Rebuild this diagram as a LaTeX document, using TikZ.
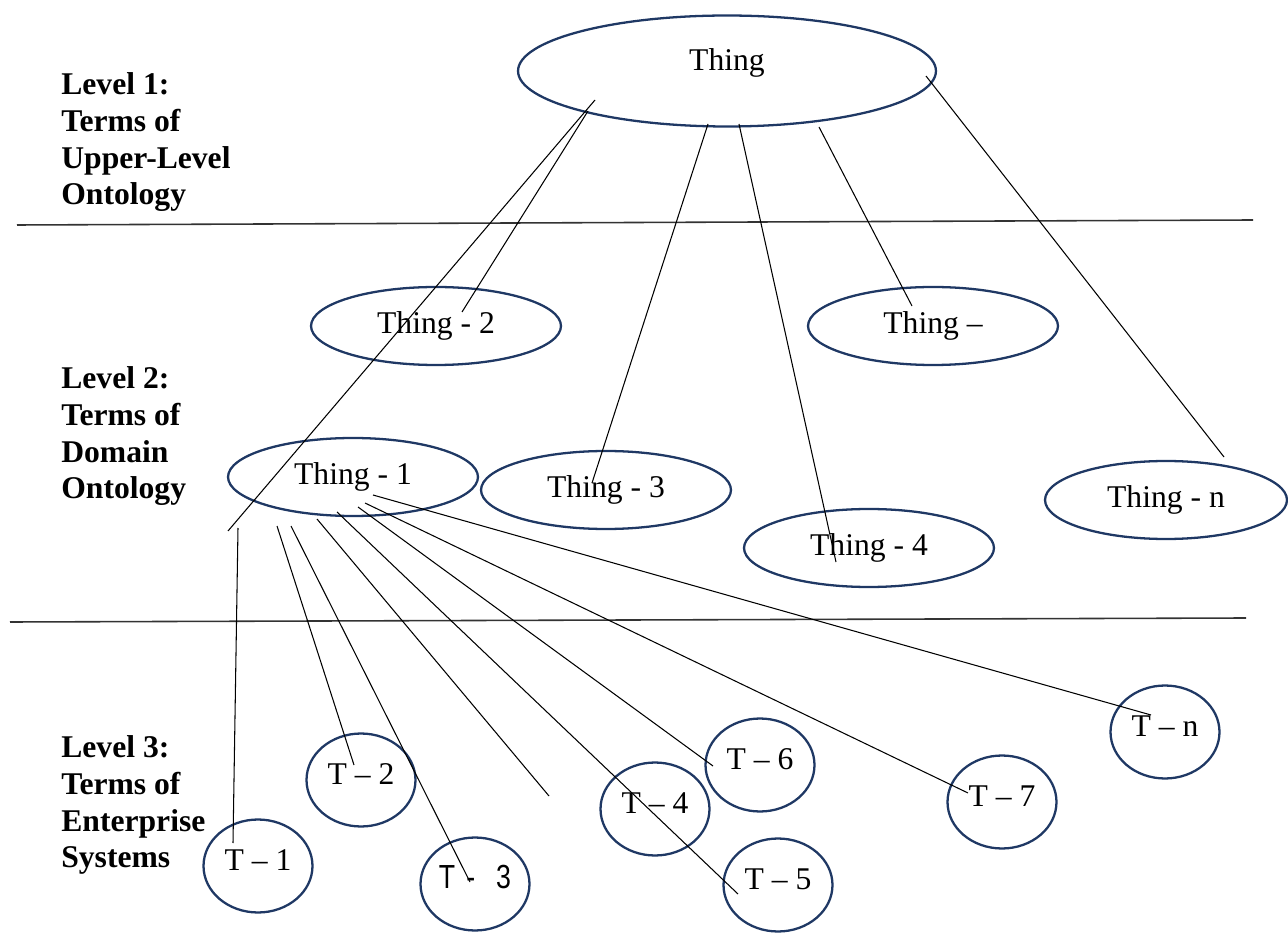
\documentclass[tikz,border=0pt]{standalone}
\usepackage{fontspec}
\setmainfont{Liberation Serif}
\newfontfamily\narrowsans{Liberation Sans}[FakeStretch=0.8]
\usetikzlibrary{shapes.geometric}
\definecolor{ovalblue}{HTML}{1F3864}

\begin{document}
\begin{tikzpicture}[
  x=0.02cm, y=-0.02cm,
  font=\fontsize{18}{21}\selectfont,
  %--- ellipse styles ---
  oval/.style={
    draw=ovalblue, ellipse, line width=1.3pt, inner sep=0pt,
    minimum width=5cm, minimum height=1.56cm
  },
  bigoval/.style={
    oval, minimum width=8.36cm, minimum height=2.22cm,
    text height=0.43cm, text depth=0.43cm
  },
  termcirc/.style={
    draw=ovalblue, ellipse, line width=1.3pt, inner sep=0pt,
    minimum width=2.18cm, minimum height=1.86cm,
    text height=0.42cm, text depth=0.24cm
  },
  %--- text and line styles ---
  levellbl/.style={
    anchor=north west, align=left, inner sep=0pt,
    font=\fontsize{18}{21}\selectfont\bfseries
  },
  link/.style={line width=0.6pt},
  rule/.style={line width=0.9pt, black!80}
]

\useasboundingbox (0,0) rectangle (1288,945);

%------------------------------------------------------------------
%  Level labels and separators
%------------------------------------------------------------------
\node[levellbl] (lvl1) at (61,72)  {Level 1:\\Terms of\\Upper-Level\\Ontology};
\node[levellbl] (lvl2) at (61,366) {Level 2:\\Terms of\\Domain\\Ontology};
\node[levellbl] (lvl3) at (61,735) {Level 3:\\Terms of\\Enterprise\\Systems};

\draw[rule] (17,225) -- (1253,220);
\draw[rule] (10,622) -- (1246,618);

%------------------------------------------------------------------
%  Ontology terms
%------------------------------------------------------------------
\node[bigoval] (thing)  at (727,71)    {Thing};

\node[oval]    (thing2) at (436,326)   {Thing - 2};
\node[oval]    (thingx) at (933,326)   {Thing –};
\node[oval]    (thing1) at (353,477)   {Thing - 1};
\node[oval]    (thing3) at (606,490)   {Thing - 3};
\node[oval]    (thing4) at (869,548)   {Thing - 4};
\node[oval, minimum width=4.84cm] (thingn) at (1166,500) {Thing - n};

\node[termcirc] (t1) at (258,866)  {T – 1};
\node[termcirc] (t2) at (361,780)  {T – 2};
\node[termcirc] (t3) at (475,884)  {\narrowsans\fontsize{19}{21}\selectfont T\hspace{0.22cm}-\hspace{0.42cm}3};
\node[termcirc] (t4) at (655,809)  {T – 4};
\node[termcirc] (t5) at (778,885)  {T – 5};
\node[termcirc] (t6) at (760,765)  {T – 6};
\node[termcirc] (t7) at (1002,802) {T – 7};
\node[termcirc] (tn) at (1165,732) {T – n};

%------------------------------------------------------------------
%  Line ends (free ends, inside or beside the shapes)
%------------------------------------------------------------------
\coordinate (up1)  at (595,100);  \coordinate (lo1)  at (228,531);
\coordinate (up2)  at (588,111);  \coordinate (on2)  at (462,312);
\coordinate (up3)  at (708,124);  \coordinate (on3)  at (592,483);
\coordinate (up4)  at (739,124);  \coordinate (on4)  at (836,562);
\coordinate (up5)  at (819,127);  \coordinate (onx)  at (912,306);
\coordinate (up6)  at (926,76);   \coordinate (onn)  at (1224,457);

\coordinate (dn1)  at (238,528);  \coordinate (ont1) at (233,843);
\coordinate (dn2)  at (277,526);  \coordinate (ont2) at (354,765);
\coordinate (dn3)  at (291,526);  \coordinate (ont3) at (470,882);
\coordinate (dn4)  at (317,519);  \coordinate (loose) at (549,796);
\coordinate (dn5)  at (337,512);  \coordinate (ont5) at (738,894);
\coordinate (dn6)  at (358,507);  \coordinate (ont6) at (713,766);
\coordinate (dn7)  at (365,503);  \coordinate (ont7) at (968,793);
\coordinate (dn8)  at (373,495);  \coordinate (ontn) at (1151,715);

%------------------------------------------------------------------
%  Level 1 -> Level 2
%------------------------------------------------------------------
\draw[link] (up1) -- (lo1);
\draw[link] (up2) -- (on2);
\draw[link] (up3) -- (on3);
\draw[link] (up4) -- (on4);
\draw[link] (up5) -- (onx);
\draw[link] (up6) -- (onn);

%------------------------------------------------------------------
%  Level 2 -> Level 3
%------------------------------------------------------------------
\draw[link] (dn1) -- (ont1);
\draw[link] (dn2) -- (ont2);
\draw[link] (dn3) -- (ont3);
\draw[link] (dn4) -- (loose);
\draw[link] (dn5) -- (ont5);
\draw[link] (dn6) -- (ont6);
\draw[link] (dn7) -- (ont7);
\draw[link] (dn8) -- (ontn);

\end{tikzpicture}
\end{document}
